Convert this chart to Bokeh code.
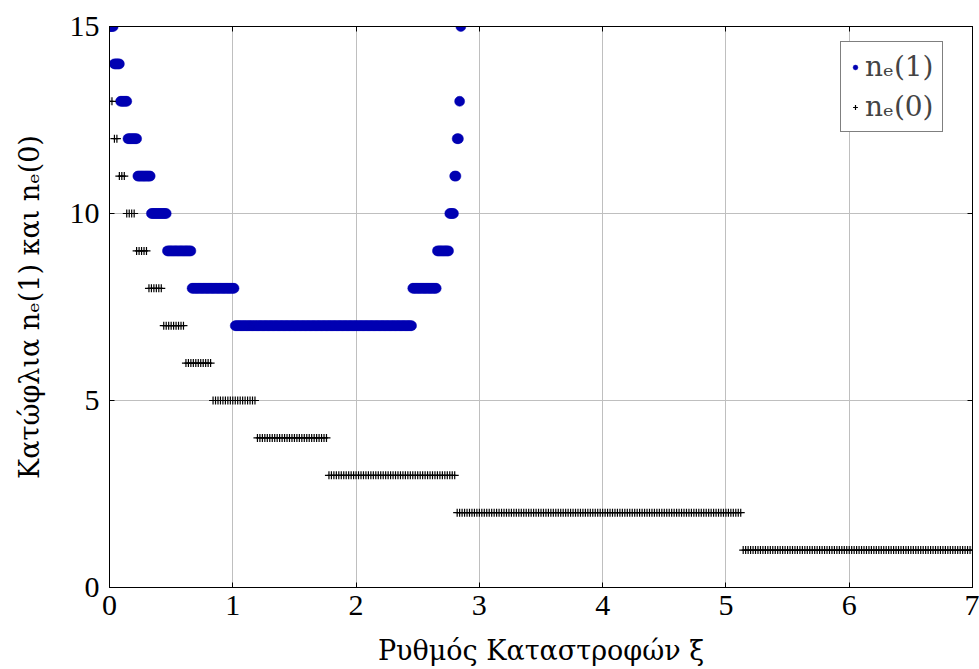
import numpy as np
from bokeh.plotting import figure
from bokeh.models import Legend, LegendItem, FixedTicker, LinearAxis
from bokeh.embed import file_html
from bokeh.resources import INLINE

# n_e(1): threshold level and the xi-range (first, last sample) of each run; sweep step 0.01
ne1_level = [15, 14, 13, 12, 11, 10, 9, 8, 7, 8, 9, 10, 11, 12, 13, 15]
ne1_start = [0.00, 0.04, 0.09, 0.15, 0.23, 0.34, 0.47, 0.67, 1.02, 2.46, 2.66, 2.76, 2.80, 2.82, 2.84, 2.85]
ne1_end = [0.03, 0.08, 0.14, 0.22, 0.33, 0.46, 0.66, 1.01, 2.45, 2.65, 2.75, 2.79, 2.81, 2.83, 2.84, 2.85]
ne1_step = 0.01

# n_e(0): threshold level and the xi-range of each run; sweep step 0.02
ne0_level = [13, 12, 11, 10, 9, 8, 7, 6, 5, 4, 3, 2, 1]
ne0_start = [0.00, 0.04, 0.08, 0.14, 0.22, 0.32, 0.44, 0.62, 0.84, 1.20, 1.78, 2.82, 5.14]
ne0_end = [0.02, 0.06, 0.12, 0.20, 0.30, 0.42, 0.60, 0.82, 1.18, 1.76, 2.80, 5.12, 7.00]
ne0_step = 0.02

x_ticks = [0, 1, 2, 3, 4, 5, 6, 7]
y_ticks = [0, 5, 10, 15]
x_label = "Ρυθμός Καταστροφών ξ"
y_label = "Κατώφλια nₑ(1) και nₑ(0)"
legend_labels = ["nₑ(1)", "nₑ(0)"]


def expand(levels, starts, ends, step):
    xs, ys = [], []
    for lv, s, e in zip(levels, starts, ends):
        grid = np.round(np.arange(s, e + step / 2, step), 2)
        xs.extend(grid.tolist())
        ys.extend([lv] * len(grid))
    return xs, ys


x1, y1 = expand(ne1_level, ne1_start, ne1_end, ne1_step)
x0, y0 = expand(ne0_level, ne0_start, ne0_end, ne0_step)

TICK_FONT = "Liberation Serif"
LABEL_FONT = "DejaVu Serif"

p = figure(width=979, height=669, x_range=(0, 7), y_range=(0, 15),
           output_backend="svg", toolbar_location=None)
p.min_border_left = 109
p.min_border_right = 7
p.min_border_top = 26
p.min_border_bottom = 82
p.outline_line_color = "black"
p.outline_line_width = 1
p.background_fill_color = "white"
p.border_fill_color = "white"

r1 = p.scatter(x1, y1, marker="circle", size=10, fill_color="#0000B2",
               line_color="#0000B2", line_width=0.5)
r0 = p.scatter(x0, y0, marker="cross", size=8, line_color="black", line_width=1.2)

for ax in (p.xaxis[0], p.yaxis[0]):
    ax.major_label_text_font = TICK_FONT
    ax.major_label_text_font_size = "30px"
    ax.major_label_text_color = "black"
    ax.axis_label_text_font = LABEL_FONT
    ax.axis_label_text_font_size = "27px"
    ax.axis_label_text_font_style = "normal"
    ax.axis_label_text_color = "black"
    ax.major_tick_in = 5
    ax.major_tick_out = 0
    ax.minor_tick_line_color = None
    ax.axis_line_color = "black"
    ax.major_tick_line_color = "black"

p.xaxis.ticker = FixedTicker(ticks=x_ticks)
p.yaxis.ticker = FixedTicker(ticks=y_ticks)
p.xaxis.axis_label = x_label
p.yaxis.axis_label = y_label
p.xaxis.major_label_standoff = 8
p.yaxis.major_label_standoff = 10
p.xaxis.axis_label_standoff = 17
p.yaxis.axis_label_standoff = 22

# mirrored ticks on top and right
top = LinearAxis(ticker=FixedTicker(ticks=x_ticks), major_label_text_color=None,
                 major_tick_in=5, major_tick_out=0, minor_tick_line_color=None)
right = LinearAxis(ticker=FixedTicker(ticks=y_ticks), major_label_text_color=None,
                   major_tick_in=5, major_tick_out=0, minor_tick_line_color=None)
p.add_layout(top, "above")
p.add_layout(right, "right")

p.xgrid.ticker = FixedTicker(ticks=x_ticks)
p.ygrid.ticker = FixedTicker(ticks=y_ticks)
p.grid.grid_line_color = "#BFBFBF"
p.grid.grid_line_width = 1

legend = Legend(items=[LegendItem(label=legend_labels[0], renderers=[r1]),
                       LegendItem(label=legend_labels[1], renderers=[r0])],
                location=(731, 455))
legend.label_text_font = LABEL_FONT
legend.label_text_font_size = "28px"
legend.border_line_color = "black"
legend.border_line_width = 1
legend.background_fill_color = "white"
legend.background_fill_alpha = 1
legend.padding = 8
legend.spacing = 7
legend.margin = 0
legend.glyph_width = 12
legend.label_standoff = 4
p.add_layout(legend)

open("out.html", "w").write(file_html(p, INLINE))
